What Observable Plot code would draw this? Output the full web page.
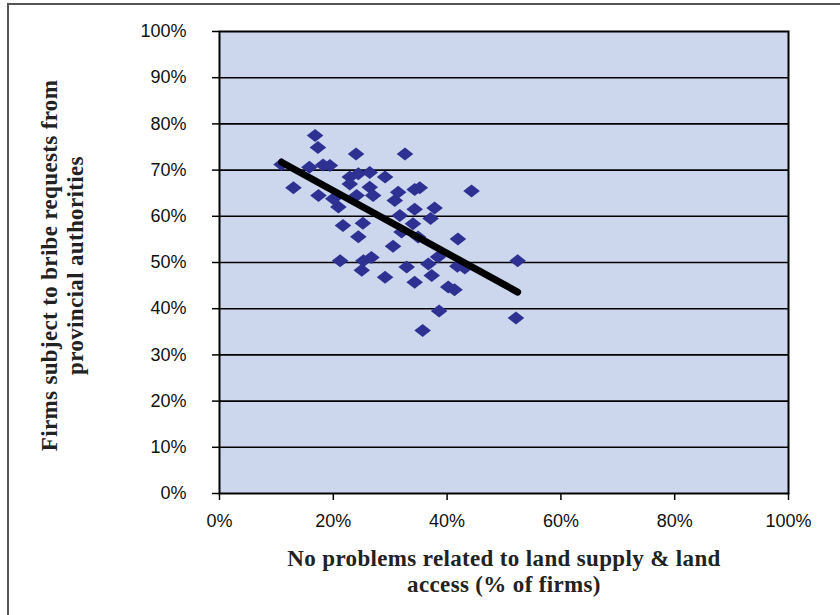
<!DOCTYPE html>
<html>
<head>
<meta charset="utf-8">
<script src="https://cdn.jsdelivr.net/npm/d3@7"></script>
<script src="https://cdn.jsdelivr.net/npm/@observablehq/plot@0.6"></script>
<style>
  html, body { margin: 0; padding: 0; background: #fff; }
  #wrap { position: relative; width: 840px; height: 615px; overflow: hidden; }
  #border { position: absolute; left: 7px; top: 3px; width: 860px; height: 640px; border: 2px solid #555; box-sizing: border-box; }
  #chart { position: absolute; left: 0; top: 0; }
  g[font-family*="Liberation Serif"] { letter-spacing: 0.35px; }
</style>
</head>
<body>
<div id="wrap"><div id="border"></div><div id="chart"></div></div>
<script>
// Reading of the scatter (percent of firms)
const landAccess = [10.9, 13.0, 15.8, 16.8, 17.3, 18.2, 19.4, 24.0, 32.6, 22.9, 24.4, 22.9, 26.4, 29.1, 26.4,
  17.4, 20.0, 20.9, 24.1, 27.0, 31.4, 35.2, 34.3, 44.3, 30.8, 34.3, 37.8, 31.7, 37.1, 34.0, 25.2, 21.7,
  24.4, 32.0, 34.9, 41.9, 30.5, 21.2, 25.3, 26.7, 25.0, 29.1, 32.9, 36.7, 38.4, 34.3, 37.3, 40.2, 41.3,
  41.8, 43.1, 52.4, 38.6, 35.7, 52.1];
const bribeRequests = [71.2, 66.2, 70.6, 77.5, 74.9, 71.1, 71.0, 73.5, 73.5, 68.5, 69.2, 67.0, 69.5, 68.5, 66.3,
  64.5, 63.8, 62.0, 64.5, 64.5, 65.2, 66.2, 65.8, 65.5, 63.4, 61.5, 61.8, 60.2, 59.5, 58.4, 58.5, 58.0,
  55.6, 56.6, 55.5, 55.1, 53.5, 50.4, 50.4, 51.1, 48.3, 46.8, 49.0, 49.7, 51.2, 45.7, 47.2, 44.7, 44.1,
  49.2, 48.8, 50.4, 39.5, 35.3, 38.0];
// Linear trend line endpoints
const trendX = [10.9, 52.4];
const trendY = [71.7, 43.6];
// Axis ticks
const xTicks = [0, 20, 40, 60, 80, 100];
const yTicks = [0, 10, 20, 30, 40, 50, 60, 70, 80, 90, 100];
const xTitle = "No problems related to land supply & land\naccess (% of firms)";
const yTitle = "Firms subject to bribe requests from\nprovincial authorities";

const points = landAccess.map((x, i) => ({x, y: bribeRequests[i]}));
const trend = trendX.map((x, i) => ({x, y: trendY[i]}));

const diamond = {
  draw(context) {
    const w = 8.3, h = 6.5;
    context.moveTo(0, -h);
    context.lineTo(w, 0);
    context.lineTo(0, h);
    context.lineTo(-w, 0);
    context.closePath();
  }
};

const pct = d => d + "%";

const chart = Plot.plot({
  width: 840,
  height: 615,
  marginLeft: 219,
  marginRight: 52,
  marginTop: 31,
  marginBottom: 122,
  style: {background: "transparent", fontFamily: "'Liberation Sans', Arial, sans-serif", fontSize: "18px", color: "#111"},
  x: {domain: [0, 100], label: null},
  y: {domain: [0, 100], label: null},
  marks: [
    Plot.frame({fill: "#ccd7ee", stroke: "none"}),
    Plot.gridY(yTicks.filter(d => d > 0 && d < 100), {stroke: "#000", strokeOpacity: 1, strokeWidth: 1.6}),
    Plot.frame({stroke: "#000", strokeWidth: 2}),
    Plot.axisX({ticks: xTicks, tickFormat: pct, tickSize: 7, tickPadding: 14, label: null, stroke: "#000", strokeWidth: 1.5}),
    Plot.axisY({ticks: yTicks, tickFormat: pct, tickSize: 7, tickPadding: 26, label: null, stroke: "#000", strokeWidth: 1.5}),
    Plot.dot(points, {x: "x", y: "y", symbol: diamond, fill: "#2e3192", stroke: "none"}),
    Plot.line(trend, {x: "x", y: "y", stroke: "#000", strokeWidth: 7}),
    Plot.text([xTitle], {frameAnchor: "bottom", dy: 77, lineAnchor: "middle", textAnchor: "middle", text: d => d,
      fontFamily: "'Liberation Serif', serif", fontWeight: "bold", fontSize: 23, lineHeight: 1.13, fill: "#222"}),
    Plot.text([yTitle], {frameAnchor: "left", dx: -158, dy: 3, rotate: -90, lineAnchor: "middle", textAnchor: "middle", text: d => d,
      fontFamily: "'Liberation Serif', serif", fontWeight: "bold", fontSize: 23, lineHeight: 1.12, fill: "#222"})
  ]
});
document.getElementById("chart").appendChild(chart);
</script>
</body>
</html>
